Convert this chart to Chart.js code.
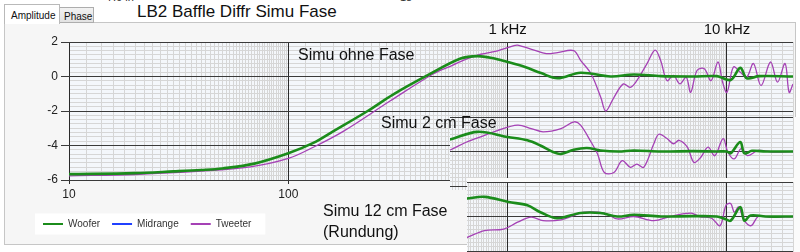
<!DOCTYPE html>
<html lang="de">
<head>
<meta charset="UTF-8">
<title>LB2 Baffle Diffr Simu Fase</title>
<style>
  body { margin:0; width:800px; height:252px; overflow:hidden; background:#fff; position:relative; font-family: Arial, "Liberation Sans", sans-serif; }
  .abs { position:absolute; }
  #panel { left:4px; top:22px; width:790px; height:221px; border:1px solid #c6c6c6; background:#f6f6f6; }
  .tab { font-size:10px; color:#111; box-sizing:border-box; white-space:nowrap; }
  #tabA { left:4px; top:4px; width:56px; height:20px; background:#fff; border:1px solid #b9b9b9; border-bottom:none; padding:5px 0 0 6px; z-index:2; }
  #tabP { left:59px; top:7px; width:35px; height:16px; background:linear-gradient(#f2f2f2,#e2e2e2); border:1px solid #adadad; padding:3px 0 0 4px; }
  #title { left:137px; top:2px; font-size:17px; line-height:20px; color:#111; white-space:nowrap; }
  .cut { font-size:11px; line-height:12px; color:#333; top:-9px; }
  .inset { overflow:hidden; background:#fbfbfb; }
  .inset canvas { position:absolute; }
  .note { font-size:16px; line-height:16px; color:#111; white-space:nowrap; z-index:5; }
</style>
</head>
<body>
<div id="panel" class="abs"></div>
<div id="tabA" class="abs tab">Amplitude</div>
<div id="tabP" class="abs tab">Phase</div>
<div class="abs cut" style="left:107px">7.9 in</div>
<div class="abs cut" style="left:400px">18</div>
<div id="title" class="abs">LB2 Baffle Diffr Simu Fase</div>

<canvas id="mainChart" class="abs" width="800" height="252" style="left:0;top:0"></canvas>

<div class="abs inset" style="left:450px;top:117px;width:350px;height:73px">
  <canvas id="chart2cm" width="800" height="252" style="left:-450px;top:-42px"></canvas>
</div>
<div class="abs inset" style="left:467px;top:178px;width:333px;height:74px">
  <canvas id="chart12cm" width="800" height="252" style="left:-467px;top:-38px"></canvas>
</div>

<div class="abs note" style="left:298px;top:47px">Simu ohne Fase</div>
<div class="abs note" style="left:381px;top:115px">Simu 2 cm Fase</div>
<div class="abs note" style="left:323px;top:200px;line-height:21px">Simu 12 cm Fase<br>(Rundung)</div>

<script src="https://cdn.jsdelivr.net/npm/chart.js"></script>
<script>
// ---- data (Hz / dB) ----
const seriesNames = ['Woofer', 'Midrange', 'Tweeter'];
const seriesColors = ['#1b8c1b', '#2040ff', '#a541b5'];

// Simu ohne Fase
const mainWooferHz = [10, 20, 30, 40, 50, 70, 100, 130, 160, 230, 300, 430, 610, 730, 850, 1000, 1200, 1420, 1690, 2150, 2950, 3760, 5000, 7000, 9000, 10400, 11500, 12300, 14000, 20000];
const mainWooferDb = [-5.66, -5.6, -5.5, -5.42, -5.33, -5.05, -4.45, -3.85, -3.18, -2.0, -1.05, 0.06, 1.04, 1.18, 1.07, 0.84, 0.55, 0.2, -0.1, 0.22, 0.0, 0.12, 0.02, 0.0, 0.02, -0.2, 0.5, -0.1, 0.02, 0.0];
const mainTweeterHz = [10, 20, 40, 67, 100, 130, 178, 292, 459, 560, 656, 754, 900, 1060, 1110, 1320, 1500, 1690, 2000, 2150, 2400, 2660, 2800, 3050, 3370, 3620, 3880, 4320, 4700, 4980, 5330, 5700, 6100, 6520, 6830, 7300, 7880, 8460, 9100, 9550, 10000, 10700, 11500, 12300, 13200, 14300, 15800, 17000, 18400, 19200, 20000];
const mainTweeterDb = [-5.76, -5.68, -5.49, -5.24, -4.75, -4.1, -3.18, -1.41, 0.16, 0.65, 1.04, 1.29, 1.49, 1.78, 1.82, 1.53, 1.33, 1.39, 1.5, 0.94, 0.16, -1.22, -2.0, -1.22, -0.43, -0.63, -0.24, 0.75, 1.53, 0.94, -0.24, 0.06, -0.43, -0.04, -0.92, 0.35, 0.45, -0.24, 0.84, -0.33, -0.92, 0.55, 0.25, -0.04, 0.75, -0.53, 0.84, -0.33, 0.75, -0.92, -0.43];

// Simu 2 cm Fase
const twoCmWooferHz = [500, 550, 728, 1000, 1230, 1410, 1620, 1750, 2000, 2300, 2650, 3200, 3760, 5000, 7000, 9000, 10000, 10400, 11500, 12000, 13000, 15000, 20000];
const twoCmWooferDb = [0.62, 0.71, 1.14, 0.84, 0.65, 0.35, -0.04, -0.14, 0.1, 0.2, 0.06, 0.0, 0.06, 0.0, 0.02, 0.0, 0.0, -0.1, 0.55, -0.1, 0.04, 0.0, 0.0];
const twoCmTweeterHz = [500, 550, 650, 785, 890, 1110, 1280, 1450, 1750, 2010, 2150, 2400, 2570, 2760, 3050, 3330, 3630, 3880, 4170, 4640, 4890, 5330, 5700, 6050, 6600, 7070, 7600, 8200, 8800, 9600, 10100, 10800, 11600, 12400, 13900, 16500, 20000];
const twoCmTweeterDb = [-0.1, 0.1, 0.55, 0.94, 1.2, 1.53, 1.33, 1.14, 1.33, 1.72, 1.53, 0.55, -0.14, -1.22, -1.22, -0.53, -0.92, -0.73, -0.92, 0.45, 1.0, 0.75, 0.45, 0.65, 0.25, -0.63, -0.33, 0.25, -0.24, 0.75, -0.04, -0.43, 0.16, -0.24, 0.06, -0.04, 0.0];

// Simu 12 cm Fase (Rundung)
const twelveCmWooferHz = [600, 650, 785, 1010, 1230, 1410, 1680, 2150, 2650, 3160, 3760, 5000, 7000, 9000, 9800, 10400, 11500, 12000, 12800, 15000, 20000];
const twelveCmWooferDb = [1.0, 1.04, 1.14, 0.84, 0.65, 0.25, -0.1, 0.2, 0.2, 0.0, 0.1, 0.0, 0.02, 0.0, -0.14, -0.24, 0.55, -0.24, 0.06, 0.0, 0.0];
const twelveCmTweeterHz = [600, 650, 785, 960, 1110, 1280, 1450, 1750, 2010, 2230, 2760, 3160, 3760, 4640, 5500, 6850, 7500, 8500, 9300, 9900, 10400, 10800, 11300, 12000, 12900, 13900, 16000, 20000];
const twelveCmTweeterDb = [-1.35, -1.22, -0.82, -0.73, -0.33, -0.04, -0.24, -0.2, 0.06, 0.25, 0.2, -0.14, 0.0, -0.24, 0.0, 0.2, 0.0, -0.1, -0.53, 0.65, 0.75, 0.25, 0.55, -0.24, -0.53, 0.0, -0.05, 0.0];

// axes
const freqMin = 10, freqMax = 20000;
const freqDecades = [10, 100, 1000, 10000];
const dbMin = -6, dbMax = 2, dbMinorStep = 0.25;
const dbMajor = [-6, -4, -2, 0, 2];
const topTickHz = [1000, 10000];
const topTickLabels = ['1 kHz', '10 kHz'];

function toPoints(hz, db) {
  return hz.map((f, i) => ({ x: f, y: db[i] }));
}
// light grid every 2 units inside each decade (dense toward decade end)
const xMinorHz = [];
for (let d = 10; d < freqMax; d *= 10) {
  for (let k = 12; k < 100; k += 2) {
    const v = d * k / 10;
    if (v <= freqMax) xMinorHz.push(v);
  }
}
const yMinorDb = [];
for (let v = dbMin; v <= dbMax + 1e-9; v += dbMinorStep) {
  const r = Math.round(v * 100) / 100;
  if (!dbMajor.includes(r)) yMinorDb.push(r);
}

const plotBg = {
  id: 'plotBg',
  beforeDraw(chart) {
    const a = chart.chartArea, c = chart.ctx;
    c.save();
    c.fillStyle = '#f4f7fb';
    c.fillRect(a.left, a.top, a.right - a.left, a.bottom - a.top);
    const lg = chart.legend;
    if (lg && lg.legendHitBoxes && lg.legendHitBoxes.length) {
      const hb = lg.legendHitBoxes;
      const last = hb[hb.length - 1];
      const cy = hb[0].top + hb[0].height / 2;
      c.fillStyle = '#ffffff';
      c.fillRect(hb[0].left - 8, cy - 10.5, last.left + last.width + 14 - (hb[0].left - 8), 21);
    }
    c.restore();
  }
};

function minorScale(axis, ticks) {
  const s = {
    display: true,
    position: axis === 'x' ? 'bottom' : 'left',
    z: -2,
    afterBuildTicks: sc => { sc.ticks = ticks.map(v => ({ value: v })); },
    afterFit: sc => { if (axis === 'x') sc.height = 0; else sc.width = 0; },
    ticks: { display: false, autoSkip: false },
    grid: { color: '#d6d6d6', drawTicks: false },
    border: { display: false }
  };
  if (axis === 'x') Object.assign(s, { type: 'logarithmic', min: freqMin, max: freqMax });
  else Object.assign(s, { min: dbMin, max: dbMax });
  return s;
}

function makeChart(id, wHz, wDb, tHz, tDb, inset) {
  const datasets = [
    { label: seriesNames[0], data: toPoints(wHz, wDb), borderColor: seriesColors[0], borderWidth: 2.6 },
    { label: seriesNames[1], data: [], borderColor: seriesColors[1], borderWidth: 2 },
    { label: seriesNames[2], data: toPoints(tHz, tDb), borderColor: seriesColors[2], borderWidth: 1.3 }
  ];
  return new Chart(document.getElementById(id), {
    type: 'line',
    data: { datasets: datasets },
    plugins: [plotBg],
    options: {
      responsive: false,
      animation: false,
      devicePixelRatio: 1,
      elements: { point: { radius: 0 }, line: { tension: 0.35, fill: false } },
      layout: { padding: { left: 31, top: 22, right: 7, bottom: 13 } },
      plugins: {
        tooltip: { enabled: false },
        legend: {
          position: 'bottom',
          align: 'start',
          labels: {
            usePointStyle: true,
            pointStyle: 'line',
            pointStyleWidth: 20,
            boxHeight: 10,
            padding: 12,
            color: '#333',
            font: { size: 10, family: 'Arial' },
            generateLabels: chart => Chart.defaults.plugins.legend.labels.generateLabels(chart)
              .map(l => Object.assign(l, { lineWidth: 2 }))
          }
        }
      },
      scales: {
        xMinor: minorScale('x', xMinorHz),
        yMinor: minorScale('y', yMinorDb),
        x: {
          type: 'logarithmic',
          position: 'bottom',
          min: freqMin,
          max: freqMax,
          z: -1,
          afterBuildTicks: s => { s.ticks = freqDecades.map(v => ({ value: v })); },
          afterFit: s => { s.height = 27; },
          ticks: {
            autoSkip: false,
            maxRotation: 0,
            padding: 3,
            color: '#222',
            font: { size: 12, family: 'Arial' },
            callback: v => (v === 10 || v === 100) ? String(v) : ''
          },
          grid: { color: '#2a2a2a', tickLength: 4, tickColor: '#2a2a2a' },
          border: { display: false }
        },
        xTop: {
          type: 'logarithmic',
          position: 'top',
          min: freqMin,
          max: freqMax,
          afterBuildTicks: s => { s.ticks = topTickHz.map(v => ({ value: v })); },
          afterFit: s => { s.height = 20; },
          ticks: {
            autoSkip: false,
            maxRotation: 0,
            padding: 3,
            color: inset ? 'rgba(0,0,0,0)' : '#111',
            font: { size: 15, family: 'Arial' },
            callback: (v, i) => topTickLabels[i]
          },
          grid: { display: false, drawTicks: false },
          border: { display: false }
        },
        y: {
          min: dbMin,
          max: dbMax,
          z: -1,
          afterBuildTicks: s => { s.ticks = dbMajor.map(v => ({ value: v })); },
          afterFit: s => { s.width = 38; },
          ticks: {
            autoSkip: false,
            padding: 3,
            color: '#222',
            font: { size: 12, family: 'Arial' },
            callback: v => String(v)
          },
          grid: { color: '#3a3a3a', tickLength: 8, tickColor: '#3a3a3a' },
          border: { display: false }
        }
      }
    }
  });
}

makeChart('mainChart', mainWooferHz, mainWooferDb, mainTweeterHz, mainTweeterDb, false);
makeChart('chart2cm', twoCmWooferHz, twoCmWooferDb, twoCmTweeterHz, twoCmTweeterDb, true);
makeChart('chart12cm', twelveCmWooferHz, twelveCmWooferDb, twelveCmTweeterHz, twelveCmTweeterDb, true);
</script>
</body>
</html>
